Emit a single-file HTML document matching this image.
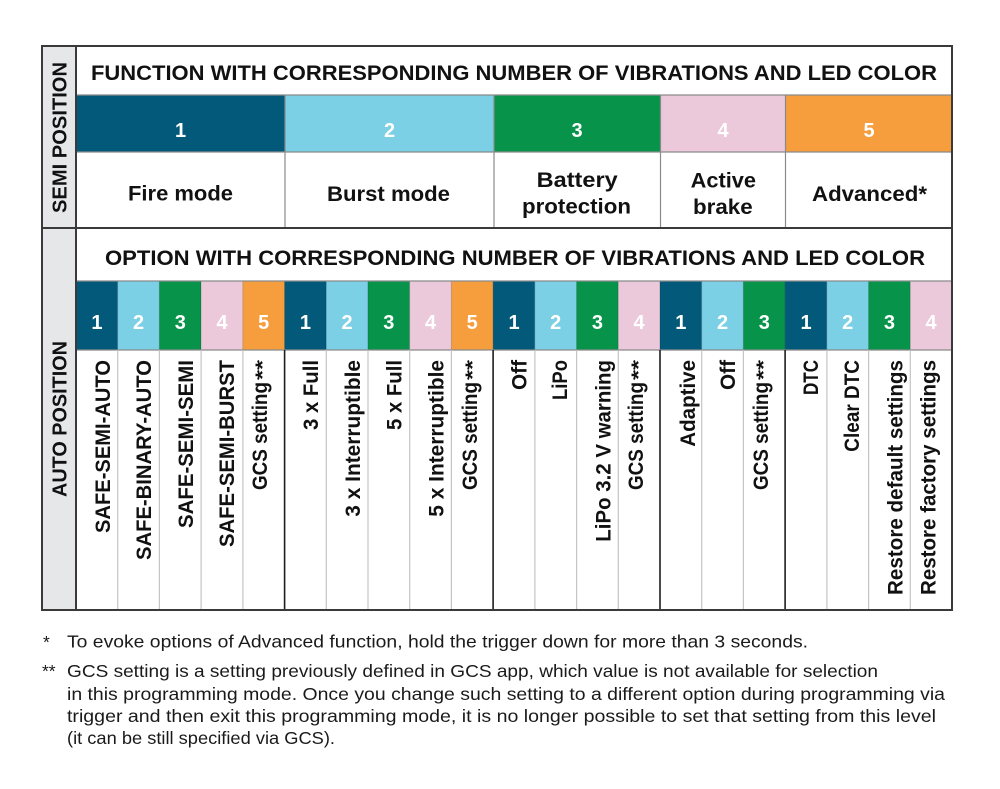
<!DOCTYPE html>
<html><head><meta charset="utf-8"><style>
html,body{margin:0;padding:0;background:#fff;}
svg{display:block;}
text{font-family:"Liberation Sans",sans-serif;}
.b{font-weight:bold;fill:#111;}
.n{font-weight:bold;fill:#fff;font-size:20px;}
.v{font-weight:bold;fill:#111;font-size:21px;}
.f{fill:#1a1a1a;font-size:17.5px;}
</style></head><body>
<svg width="1000" height="789" viewBox="0 0 1000 789" xmlns="http://www.w3.org/2000/svg">
<rect x="0" y="0" width="1000" height="789" fill="#fff"/>
<!-- left column -->
<rect x="42" y="46" width="34" height="564" fill="#e6e7e9"/>
<!-- top color row -->
<rect x="76" y="95" width="209" height="57" fill="#02597a"/>
<rect x="285" y="95" width="209" height="57" fill="#7bd0e5"/>
<rect x="494" y="95" width="166.5" height="57" fill="#07944a"/>
<rect x="660.5" y="95" width="125" height="57" fill="#ebc9da"/>
<rect x="785.5" y="95" width="166.5" height="57" fill="#f69d3e"/>
<!-- bottom color row -->
<g stroke="rgba(0,0,0,0.12)" stroke-width="1">
<rect x="76" y="281" width="41.7" height="69" fill="#02597a"/>
<rect x="117.7" y="281" width="41.7" height="69" fill="#7bd0e5"/>
<rect x="159.4" y="281" width="41.7" height="69" fill="#07944a"/>
<rect x="201.1" y="281" width="41.7" height="69" fill="#ebc9da"/>
<rect x="242.9" y="281" width="41.7" height="69" fill="#f69d3e"/>
<rect x="284.6" y="281" width="41.7" height="69" fill="#02597a"/>
<rect x="326.3" y="281" width="41.7" height="69" fill="#7bd0e5"/>
<rect x="368" y="281" width="41.7" height="69" fill="#07944a"/>
<rect x="409.7" y="281" width="41.7" height="69" fill="#ebc9da"/>
<rect x="451.4" y="281" width="41.7" height="69" fill="#f69d3e"/>
<rect x="493.1" y="281" width="41.7" height="69" fill="#02597a"/>
<rect x="534.9" y="281" width="41.7" height="69" fill="#7bd0e5"/>
<rect x="576.6" y="281" width="41.7" height="69" fill="#07944a"/>
<rect x="618.3" y="281" width="41.7" height="69" fill="#ebc9da"/>
<rect x="660" y="281" width="41.7" height="69" fill="#02597a"/>
<rect x="701.7" y="281" width="41.7" height="69" fill="#7bd0e5"/>
<rect x="743.4" y="281" width="41.7" height="69" fill="#07944a"/>
<rect x="785.1" y="281" width="41.7" height="69" fill="#02597a"/>
<rect x="826.9" y="281" width="41.7" height="69" fill="#7bd0e5"/>
<rect x="868.6" y="281" width="41.7" height="69" fill="#07944a"/>
<rect x="910.3" y="281" width="41.7" height="69" fill="#ebc9da"/>
</g>
<!-- grid lines -->
<g stroke="#8a8a8a" stroke-width="1.2">
<line x1="76" y1="95" x2="952" y2="95"/>
<line x1="76" y1="152" x2="952" y2="152"/>
<line x1="285" y1="152" x2="285" y2="228"/>
<line x1="494" y1="152" x2="494" y2="228"/>
<line x1="660.5" y1="152" x2="660.5" y2="228"/>
<line x1="785.5" y1="152" x2="785.5" y2="228"/>
<line x1="285" y1="95" x2="285" y2="152"/>
<line x1="494" y1="95" x2="494" y2="152"/>
<line x1="660.5" y1="95" x2="660.5" y2="152"/>
<line x1="785.5" y1="95" x2="785.5" y2="152"/>
<line x1="76" y1="281" x2="952" y2="281"/>
<line x1="76" y1="350" x2="952" y2="350"/>
</g>
<g stroke="#c4c4c4" stroke-width="1.2">
<line x1="117.7" y1="350" x2="117.7" y2="610"/>
<line x1="159.4" y1="350" x2="159.4" y2="610"/>
<line x1="201.1" y1="350" x2="201.1" y2="610"/>
<line x1="242.9" y1="350" x2="242.9" y2="610"/>
<line x1="326.3" y1="350" x2="326.3" y2="610"/>
<line x1="368" y1="350" x2="368" y2="610"/>
<line x1="409.7" y1="350" x2="409.7" y2="610"/>
<line x1="451.4" y1="350" x2="451.4" y2="610"/>
<line x1="534.9" y1="350" x2="534.9" y2="610"/>
<line x1="576.6" y1="350" x2="576.6" y2="610"/>
<line x1="618.3" y1="350" x2="618.3" y2="610"/>
<line x1="701.7" y1="350" x2="701.7" y2="610"/>
<line x1="743.4" y1="350" x2="743.4" y2="610"/>
<line x1="826.9" y1="350" x2="826.9" y2="610"/>
<line x1="868.6" y1="350" x2="868.6" y2="610"/>
<line x1="910.3" y1="350" x2="910.3" y2="610"/>
</g>
<g stroke="#1e1e1e" stroke-width="1.6">
<line x1="284.6" y1="350" x2="284.6" y2="610"/>
<line x1="493.1" y1="350" x2="493.1" y2="610"/>
<line x1="660" y1="350" x2="660" y2="610"/>
<line x1="785.1" y1="350" x2="785.1" y2="610"/>
</g>
<g stroke="#3a3a3a" stroke-width="2" fill="none">
<rect x="42" y="46" width="910" height="564"/>
<line x1="76" y1="46" x2="76" y2="610"/>
<line x1="42" y1="228" x2="952" y2="228"/>
</g>

<!-- left labels -->
<text class="b" font-size="20" transform="translate(66.7,213) rotate(-90)" textLength="151" lengthAdjust="spacingAndGlyphs">SEMI POSITION</text>
<text class="b" font-size="20" transform="translate(66.7,497) rotate(-90)" textLength="156" lengthAdjust="spacingAndGlyphs">AUTO POSITION</text>

<!-- titles -->
<text class="b" font-size="21" x="91" y="80" textLength="846" lengthAdjust="spacingAndGlyphs">FUNCTION WITH CORRESPONDING NUMBER OF VIBRATIONS AND LED COLOR</text>
<text class="b" font-size="21" x="105" y="265" textLength="820" lengthAdjust="spacingAndGlyphs">OPTION WITH CORRESPONDING NUMBER OF VIBRATIONS AND LED COLOR</text>

<!-- top numbers -->
<text class="n" x="180.5" y="137" text-anchor="middle">1</text>
<text class="n" x="389.5" y="137" text-anchor="middle">2</text>
<text class="n" x="577" y="137" text-anchor="middle">3</text>
<text class="n" x="723" y="137" text-anchor="middle">4</text>
<text class="n" x="869" y="137" text-anchor="middle">5</text>

<!-- top labels -->
<text class="b" font-size="21" x="128" y="200.5" textLength="105" lengthAdjust="spacingAndGlyphs">Fire mode</text>
<text class="b" font-size="21" x="327" y="201" textLength="123" lengthAdjust="spacingAndGlyphs">Burst mode</text>
<text class="b" font-size="21" x="536.7" y="187" textLength="81" lengthAdjust="spacingAndGlyphs">Battery</text>
<text class="b" font-size="21" x="522" y="213.5" textLength="109" lengthAdjust="spacingAndGlyphs">protection</text>
<text class="b" font-size="21" x="690.7" y="187.5" textLength="65.3" lengthAdjust="spacingAndGlyphs">Active</text>
<text class="b" font-size="21" x="693" y="214" textLength="59.7" lengthAdjust="spacingAndGlyphs">brake</text>
<text class="b" font-size="21" x="812" y="201" textLength="115" lengthAdjust="spacingAndGlyphs">Advanced*</text>

<!-- bottom numbers -->
<g class="n">
<text x="96.9" y="329" text-anchor="middle">1</text>
<text x="138.6" y="329" text-anchor="middle">2</text>
<text x="180.3" y="329" text-anchor="middle">3</text>
<text x="222" y="329" text-anchor="middle">4</text>
<text x="263.7" y="329" text-anchor="middle">5</text>
<text x="305.4" y="329" text-anchor="middle">1</text>
<text x="347.1" y="329" text-anchor="middle">2</text>
<text x="388.8" y="329" text-anchor="middle">3</text>
<text x="430.5" y="329" text-anchor="middle">4</text>
<text x="472.2" y="329" text-anchor="middle">5</text>
<text x="514" y="329" text-anchor="middle">1</text>
<text x="555.7" y="329" text-anchor="middle">2</text>
<text x="597.4" y="329" text-anchor="middle">3</text>
<text x="639.1" y="329" text-anchor="middle">4</text>
<text x="680.8" y="329" text-anchor="middle">1</text>
<text x="722.6" y="329" text-anchor="middle">2</text>
<text x="764.3" y="329" text-anchor="middle">3</text>
<text x="806" y="329" text-anchor="middle">1</text>
<text x="847.7" y="329" text-anchor="middle">2</text>
<text x="889.4" y="329" text-anchor="middle">3</text>
<text x="931.1" y="329" text-anchor="middle">4</text>
</g>

<!-- vertical labels -->
<g class="v">
<text transform="translate(110,533) rotate(-90)" textLength="173" lengthAdjust="spacingAndGlyphs">SAFE-SEMI-AUTO</text>
<text transform="translate(151,560) rotate(-90)" textLength="200" lengthAdjust="spacingAndGlyphs">SAFE-BINARY-AUTO</text>
<text transform="translate(193,528) rotate(-90)" textLength="168" lengthAdjust="spacingAndGlyphs">SAFE-SEMI-SEMI</text>
<text transform="translate(234,547) rotate(-90)" textLength="187" lengthAdjust="spacingAndGlyphs">SAFE-SEMI-BURST</text>
<text transform="translate(267,490) rotate(-90)" textLength="108" lengthAdjust="spacingAndGlyphs">GCS setting</text>
<text transform="translate(269,380) rotate(-90)" font-size="19" textLength="20" lengthAdjust="spacingAndGlyphs">**</text>
<text transform="translate(318,430) rotate(-90)" textLength="70" lengthAdjust="spacingAndGlyphs">3 x Full</text>
<text transform="translate(360,516.7) rotate(-90)" textLength="156.7" lengthAdjust="spacingAndGlyphs">3 x Interruptible</text>
<text transform="translate(401.7,430) rotate(-90)" textLength="70" lengthAdjust="spacingAndGlyphs">5 x Full</text>
<text transform="translate(443.3,516.7) rotate(-90)" textLength="156.7" lengthAdjust="spacingAndGlyphs">5 x Interruptible</text>
<text transform="translate(477,490) rotate(-90)" textLength="108" lengthAdjust="spacingAndGlyphs">GCS setting</text>
<text transform="translate(479,380) rotate(-90)" font-size="19" textLength="20" lengthAdjust="spacingAndGlyphs">**</text>
<text transform="translate(526.5,390) rotate(-90)" textLength="30" lengthAdjust="spacingAndGlyphs">Off</text>
<text transform="translate(567,400) rotate(-90)" textLength="40" lengthAdjust="spacingAndGlyphs">LiPo</text>
<text transform="translate(610.5,541.7) rotate(-90)" textLength="181.7" lengthAdjust="spacingAndGlyphs">LiPo 3.2 V warning</text>
<text transform="translate(643,490) rotate(-90)" textLength="108" lengthAdjust="spacingAndGlyphs">GCS setting</text>
<text transform="translate(645,380) rotate(-90)" font-size="19" textLength="20" lengthAdjust="spacingAndGlyphs">**</text>
<text transform="translate(695,446.7) rotate(-90)" textLength="86.7" lengthAdjust="spacingAndGlyphs">Adaptive</text>
<text transform="translate(735,390) rotate(-90)" textLength="30" lengthAdjust="spacingAndGlyphs">Off</text>
<text transform="translate(768,490) rotate(-90)" textLength="108" lengthAdjust="spacingAndGlyphs">GCS setting</text>
<text transform="translate(770,380) rotate(-90)" font-size="19" textLength="20" lengthAdjust="spacingAndGlyphs">**</text>
<text transform="translate(818,395) rotate(-90)" textLength="35" lengthAdjust="spacingAndGlyphs">DTC</text>
<text transform="translate(859,451.7) rotate(-90)" textLength="91.7" lengthAdjust="spacingAndGlyphs">Clear DTC</text>
<text transform="translate(902.5,595) rotate(-90)" textLength="235" lengthAdjust="spacingAndGlyphs">Restore default settings</text>
<text transform="translate(935.5,595) rotate(-90)" textLength="235" lengthAdjust="spacingAndGlyphs">Restore factory settings</text>
</g>

<!-- footnotes -->
<text class="f" x="43" y="648">*</text>
<text class="f" x="67" y="647.5" textLength="741" lengthAdjust="spacingAndGlyphs">To evoke options of Advanced function, hold the trigger down for more than 3 seconds.</text>
<text class="f" x="42" y="677">**</text>
<text class="f" x="67" y="677" textLength="811" lengthAdjust="spacingAndGlyphs">GCS setting is a setting previously defined in GCS app, which value is not available for selection</text>
<text class="f" x="67" y="700" textLength="878" lengthAdjust="spacingAndGlyphs">in this programming mode. Once you change such setting to a different option during programming via</text>
<text class="f" x="67" y="722" textLength="869" lengthAdjust="spacingAndGlyphs">trigger and then exit this programming mode, it is no longer possible to set that setting from this level</text>
<text class="f" x="67" y="744" textLength="268" lengthAdjust="spacingAndGlyphs">(it can be still specified via GCS).</text>
</svg>
</body></html>
